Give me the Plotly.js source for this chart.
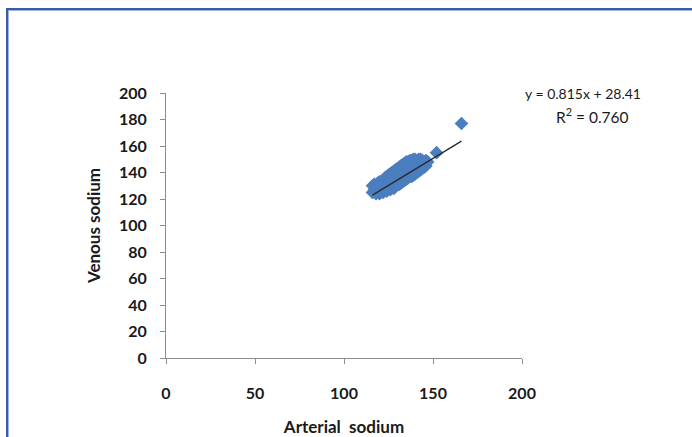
<!DOCTYPE html>
<html>
<head>
<meta charset="utf-8">
<script src="https://cdn.plot.ly/plotly-3.0.1.min.js"></script>
<style>
html,body{margin:0;padding:0;background:#fff;}
#wrap{position:relative;width:692px;height:437px;overflow:hidden;}
#chart{position:absolute;left:0;top:0;width:692px;height:437px;}
#frame{position:absolute;left:6px;top:8px;width:800px;height:600px;border-top:2px solid #3a5ca6;border-left:2px solid #3a5ca6;box-shadow:inset 1px 1px 0 #9db3dc;pointer-events:none;}
</style>
</head>
<body>
<div id="wrap"><div id="chart"></div><div id="frame"></div></div>
<script>
// Arterial vs venous sodium readings
var arterial = [
116,116,117,117,118,118,119,119,120,120,120,121,121,
122,122,122,123,123,123,124,124,124,125,125,125,
126,126,126,126,127,127,127,128,128,128,128,129,129,129,
130,130,130,131,131,131,131,132,132,132,133,133,133,133,
134,134,134,134,135,135,135,136,136,136,136,137,137,137,
138,138,138,138,139,139,139,139,140,140,140,141,141,141,141,
142,142,142,143,143,143,144,144,144,145,145,146,146,147,
152,166
];
var venous = [
125,130,127,131,124,129,126,132,124,128,133,126,131,
125,129,134,127,132,136,126,130,137,128,133,138,
127,131,135,139,129,134,140,128,132,137,141,130,135,142,
131,138,143,131,134,140,144,132,137,145,133,139,142,146,
134,137,144,147,135,140,148,136,142,145,148,137,140,149,
137,143,146,149,138,141,147,150,139,144,150,140,142,146,149,
141,145,150,142,147,150,143,146,149,144,148,145,149,148,
155,177
];
// Linear trendline reported on the chart
var slope = 0.815;
var intercept = 28.41;
var rSquared = 0.760;
var xTicks = [0,50,100,150,200];
var yTicks = [0,20,40,60,80,100,120,140,160,180,200];

var xmin = Math.min.apply(null, arterial);
var xmax = Math.max.apply(null, arterial);
var trendX = [xmin, xmax];
var trendY = trendX.map(function(v){return slope*v + intercept;});

var FAM = 'Lato, "Open Sans", sans-serif';
var tickFont = {family:FAM, size:16, color:'#1a1a1a', weight:700};
var titleFont = {family:FAM, size:17, color:'#1a1a1a', weight:700};
var data = [
  {x:arterial, y:venous, type:'scatter', mode:'markers',
   marker:{symbol:'diamond', size:10.5, color:'#4a7ebf', line:{width:0}}, hoverinfo:'x+y'},
  {x:trendX, y:trendY, type:'scatter', mode:'lines',
   line:{color:'#2a2a2a', width:1.3}, hoverinfo:'skip'}
];
var layout = {
  width:692, height:437,
  margin:{l:166, r:170, t:93, b:79},
  paper_bgcolor:'#ffffff', plot_bgcolor:'#ffffff',
  showlegend:false,
  font:{family:FAM},
  xaxis:{range:[0,200], tickvals:xTicks, ticktext:xTicks.map(String),
    showgrid:false, zeroline:false, showline:true, linecolor:'#8c8c8c', linewidth:1,
    ticks:'outside', ticklen:5, tickcolor:'#8c8c8c', tickfont:tickFont,
    ticklabelstandoff:16, fixedrange:true,
    title:{text:'Arterial  sodium', font:titleFont, standoff:20}},
  yaxis:{range:[0,200], tickvals:yTicks, ticktext:yTicks.map(String),
    showgrid:false, zeroline:false, showline:true, linecolor:'#8c8c8c', linewidth:1,
    ticks:'outside', ticklen:5, tickcolor:'#8c8c8c', tickfont:tickFont,
    ticklabelstandoff:10, fixedrange:true,
    title:{text:'Venous sodium', font:titleFont, standoff:14}},
  annotations:[
    {xref:'paper', yref:'paper', x:1.17, y:1.0, xanchor:'center', yanchor:'middle', showarrow:false,
     text:'y = ' + slope.toFixed(3) + 'x + ' + intercept.toFixed(2),
     font:{family:FAM, size:14, color:'#1a1a1a'}},
    {xref:'paper', yref:'paper', x:1.199, y:0.915, xanchor:'center', yanchor:'middle', showarrow:false,
     text:'R<sup>2</sup> = ' + rSquared.toFixed(3),
     font:{family:FAM, size:15.5, color:'#1a1a1a'}}
  ]
};
Plotly.newPlot('chart', data, layout, {staticPlot:true, displayModeBar:false});
</script>
</body>
</html>
